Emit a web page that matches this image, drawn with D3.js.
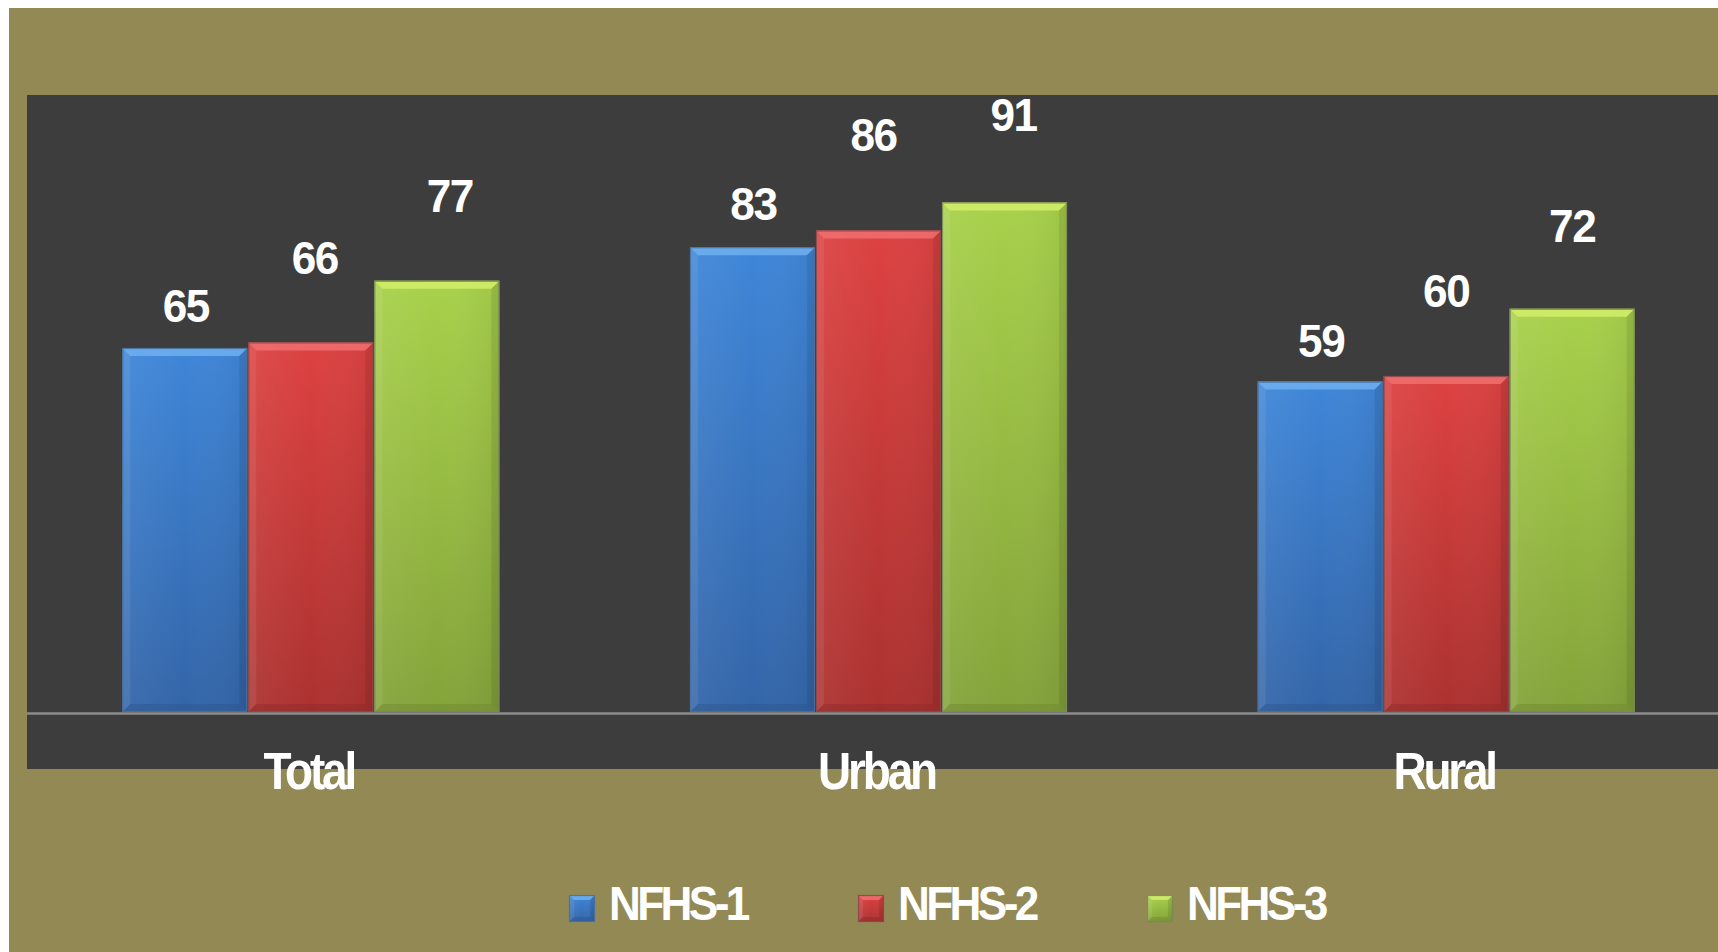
<!DOCTYPE html>
<html>
<head>
<meta charset="utf-8">
<script src="https://cdn.jsdelivr.net/npm/d3@7"></script>
<style>
  html, body { margin: 0; padding: 0; background: #ffffff; }
  svg { display: block; }
  text { font-family: "Liberation Sans", Arial, "Helvetica", sans-serif; font-weight: bold; fill: #ffffff; }
</style>
</head>
<body>
<svg id="chart" width="1718" height="952"></svg>
<script>
// Share (%) by residence across three survey rounds
const categories = ["Total", "Urban", "Rural"];
const seriesNames = ["NFHS-1", "NFHS-2", "NFHS-3"];
const nfhs1 = [65, 83, 59];
const nfhs2 = [66, 86, 60];
const nfhs3 = [77, 91, 72];
const seriesValues = [nfhs1, nfhs2, nfhs3];

// Fill palettes: [bevel highlight, body top, body bottom, bevel shade, outline]
const palettes = [
  ["#6fb0f0", "#3f86d8", "#3365a8", "#2c568f", "#4a6f9c"],
  ["#f07070", "#dc4241", "#ab3230", "#8e2a28", "#8a4a4a"],
  ["#d2ee6a", "#a8d14b", "#84a33a", "#6c8830", "#7a8a55"]
];

// Hand placement of value labels: gap above bar top and sideways shift, per series then category
const labelGap = [[26, 27, 25], [68, 79, 69], [69, 71, 67]];
const labelShift = [[1, 1, 1], [4, -5, 0], [13, 9, 0]];

const W = 1718, H = 952;
const svg = d3.select("#chart");

// Olive frame and dark plot panel
svg.append("rect").attr("x", 9).attr("y", 8).attr("width", W - 9).attr("height", H - 8).attr("fill", "#938955");
svg.append("rect").attr("x", 27).attr("y", 95).attr("width", W - 27).attr("height", 674).attr("fill", "#3d3d3d");

const y = d3.scaleLinear().domain([0, 110]).range([712, 96]);
const x0 = d3.scaleBand().domain(categories).range([27, 1730]).paddingInner(0.334).paddingOuter(0.167);
const x1 = d3.scaleBand().domain(seriesNames).range([0, x0.bandwidth()]).padding(0);

// Vertical gradients for each series
const defs = svg.append("defs");
palettes.forEach((p, i) => {
  const lg = defs.append("linearGradient").attr("id", "grad" + i)
    .attr("x1", 0).attr("y1", 0).attr("x2", 0).attr("y2", 1);
  lg.append("stop").attr("offset", "0%").attr("stop-color", p[1]);
  lg.append("stop").attr("offset", "100%").attr("stop-color", p[2]);
  const hg = defs.append("linearGradient").attr("id", "hgrad" + i)
    .attr("x1", 0).attr("y1", 0).attr("x2", 1).attr("y2", 0);
  hg.append("stop").attr("offset", "0%").attr("stop-color", "#ffffff").attr("stop-opacity", 0.06);
  hg.append("stop").attr("offset", "50%").attr("stop-color", "#ffffff").attr("stop-opacity", 0);
  hg.append("stop").attr("offset", "100%").attr("stop-color", "#000000").attr("stop-opacity", 0.06);
});

// Bevelled block used for bars and legend keys
function bevelBlock(g, x, top, w, h, si, b) {
  const p = palettes[si];
  g.append("rect").attr("x", x).attr("y", top).attr("width", w).attr("height", h)
    .attr("fill", `url(#grad${si})`);
  g.append("rect").attr("x", x).attr("y", top).attr("width", w).attr("height", h)
    .attr("fill", `url(#hgrad${si})`);
  const poly = pts => pts.map(d => d.join(",")).join(" ");
  // top highlight
  g.append("polygon").attr("points", poly([[x, top], [x + w, top], [x + w - b, top + b], [x + b, top + b]]))
    .attr("fill", p[0]).attr("opacity", 0.85);
  // left edge
  g.append("polygon").attr("points", poly([[x, top], [x + b, top + b], [x + b, top + h - b], [x, top + h]]))
    .attr("fill", "#ffffff").attr("opacity", 0.07);
  // right edge
  g.append("polygon").attr("points", poly([[x + w, top], [x + w - b, top + b], [x + w - b, top + h - b], [x + w, top + h]]))
    .attr("fill", "#000000").attr("opacity", 0.08);
  // bottom shade
  g.append("polygon").attr("points", poly([[x, top + h], [x + w, top + h], [x + w - b, top + h - b], [x + b, top + h - b]]))
    .attr("fill", p[3]).attr("opacity", 0.45);
  g.append("rect").attr("x", x + 0.5).attr("y", top + 0.5).attr("width", w - 1).attr("height", h - 1)
    .attr("fill", "none").attr("stroke", p[4]).attr("stroke-width", 1.2).attr("opacity", 0.9);
}

// Bars
const barLayer = svg.append("g");
categories.forEach((cat, ci) => {
  seriesNames.forEach((s, si) => {
    const v = seriesValues[si][ci];
    const bx = x0(cat) + x1(s);
    bevelBlock(barLayer, bx + 0.5, y(v), x1.bandwidth() - 1, y(0) - y(v), si, 8);
  });
});

// Baseline
svg.append("line").attr("x1", 27).attr("x2", W).attr("y1", y(0) + 1.5).attr("y2", y(0) + 1.5)
  .attr("stroke", "#8c8c8c").attr("stroke-width", 2.5);

// Value labels above each bar
categories.forEach((cat, ci) => {
  seriesNames.forEach((s, si) => {
    const v = seriesValues[si][ci];
    const cx = x0(cat) + x1(s) + x1.bandwidth() / 2 + labelShift[si][ci];
    svg.append("text")
      .attr("transform", `translate(${cx},${y(v) - labelGap[si][ci]}) scale(0.96,1)`)
      .attr("text-anchor", "middle").attr("font-size", 46)
      .attr("letter-spacing", -1.5)
      .text(v);
  });
});

// Category axis labels
categories.forEach(cat => {
  svg.append("text")
    .attr("transform", `translate(${x0(cat) + x0.bandwidth() / 2 - 2},789) scale(0.9,1)`)
    .attr("text-anchor", "middle").attr("font-size", 51)
    .attr("letter-spacing", -3.5)
    .text(cat);
});

// Legend
const legend = svg.append("g");
seriesNames.forEach((s, si) => {
  const lx = 569 + si * 289;
  bevelBlock(legend, lx, 895, 26, 27, si, 5);
  legend.append("text")
    .attr("transform", `translate(${lx + 40},920) scale(0.9,1)`)
    .attr("font-size", 49)
    .attr("letter-spacing", -4)
    .text(s);
});
</script>
</body>
</html>
